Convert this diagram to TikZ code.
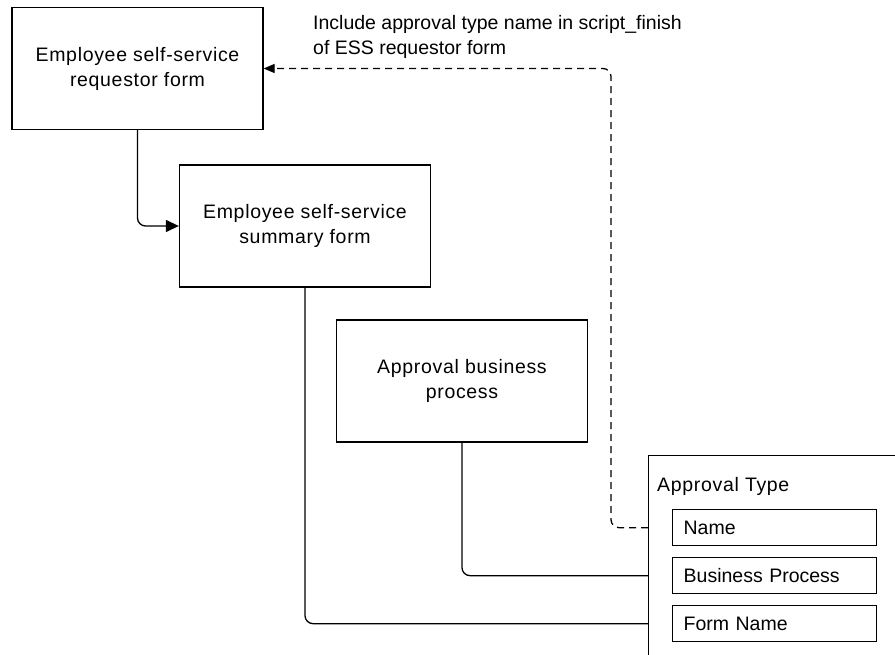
\documentclass[tikz,border=0pt]{standalone}
\usepackage{fontspec}
\setmainfont{Liberation Sans}
\newfontfamily\spacedfont[LetterSpace=3.5]{Liberation Sans}
\usetikzlibrary{arrows.meta}
\begin{document}
\begin{tikzpicture}[x=1pt,y=-1pt,
  every node/.style={font=\fontsize{19.5}{25}\selectfont},
  box/.style={draw, line width=1.3pt, minimum width=251pt, minimum height=122pt,
    align=center, inner sep=0pt, font=\spacedfont\fontsize{19.5}{25}\selectfont},
  field/.style={draw, line width=1.3pt, minimum width=204pt, minimum height=36pt,
    text width=182pt, inner xsep=11pt, inner ysep=0pt, align=left, anchor=north west},
  conn/.style={line width=1.3pt, rounded corners=8pt},
  dashconn/.style={conn, dash pattern=on 7pt off 5pt},
  bigtip/.style={-{Triangle[length=13pt,width=12pt]}},
  smalltip/.style={-{Triangle[length=11pt,width=9pt]}}
]
\useasboundingbox (0,0) rectangle (895,655);
\clip (0,0) rectangle (895,655);

% forms and process
\node[box] (req) at (137.5,68.5) {Employee self-service\\requestor form};
\node[box] (sum) at (305,226) {Employee self-service\\summary form};
\node[box] (proc) at (462,381) {Approval business\\process};

% approval type record with its fields
\node[draw, line width=1.3pt, anchor=north west, minimum width=270pt,
  minimum height=220pt] (apt) at (648,455) {};
\node[anchor=base west, inner sep=0pt, font=\spacedfont\fontsize{19.5}{25}\selectfont]
  (apttitle) at (657,491) {Approval Type};
\node[field] (nm) at (672,509) {Name};
\node[field] (bp) at (672,557) {Business Process};
\node[field] (form) at (672,605) {Form Name};

% annotation
\node[anchor=north west, inner sep=0pt, align=left] (note) at (313,15)
  {Include approval type name in script\_finish\\of ESS requestor form};

% connectors
\draw[conn, bigtip] (req.south) |- (sum.west);
\draw[conn] (sum.south) |- (apt.west |- form);
\draw[conn] (proc.south) |- (apt.west |- bp);
\coordinate (turn) at (611,0);
\draw[dashconn, smalltip] (apt.west |- nm) -| (turn |- req.east) -- (req.east);
\end{tikzpicture}
\end{document}
